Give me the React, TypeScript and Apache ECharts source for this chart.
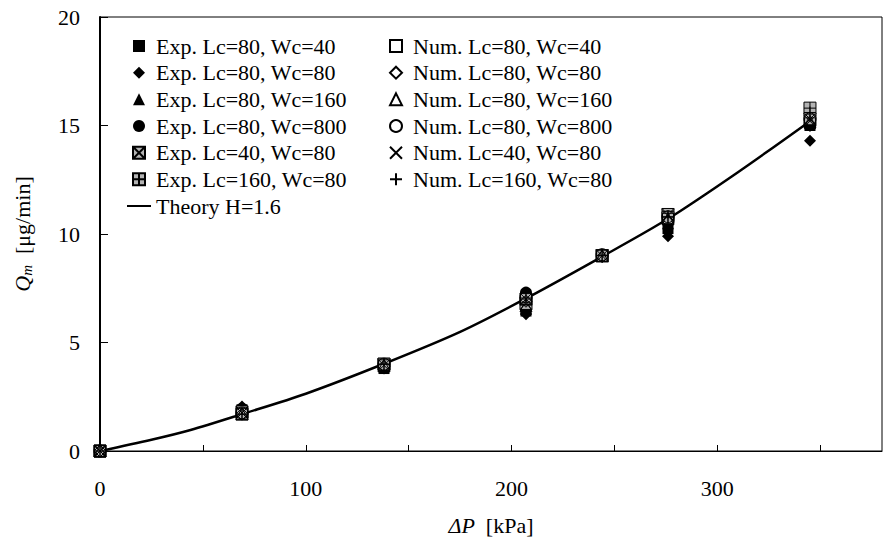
import React, { useEffect, useRef } from "react";
import * as echarts from "echarts";

// Applied pressure difference [kPa] at which flow rates were taken
const pressureKPa = [0, 69, 138, 207, 244, 276, 345];

// Experimental flow rates Qm [µg/min]
const expLc80Wc40 = [0, 1.9, 3.8, 6.45, 9.0, 10.25, 15.0];
const expLc80Wc80 = [0, 2.05, 3.8, 6.3, 9.0, 9.9, 14.3];
const expLc80Wc160 = [0, 2.0, 3.9, 6.6, 9.0, 10.5, 15.2];
const expLc80Wc800 = [0, 1.95, 3.9, 7.3, 9.0, 10.6, 15.5];
const expLc40Wc80 = [0, 1.8, 4.0, 6.8, 9.0, 10.9, 15.3];
const expLc160Wc80 = [0, 1.7, 4.0, 7.0, 9.0, 10.75, 15.8];

// Numerical flow rates Qm [µg/min]
const numLc80Wc40 = [0, 1.72, 3.95, 7.0, 9.0, 10.7, 15.1];
const numLc80Wc80 = [0, 1.7, 3.9, 6.9, 8.95, 10.6, 15.0];
const numLc80Wc160 = [0, 1.72, 3.95, 6.7, 9.0, 10.7, 15.2];
const numLc80Wc800 = [0, 1.75, 4.0, 7.1, 9.05, 10.8, 15.3];
const numLc40Wc80 = [0, 1.75, 3.95, 7.0, 9.0, 10.85, 15.2];
const numLc160Wc80 = [0, 1.7, 4.0, 7.05, 9.0, 10.8, 15.6];

// Theory curve (H = 1.6)
const theoryP = [0, 25, 44, 69, 100, 138, 175, 207, 244, 276, 310, 345];
const theoryQ = [0, 0.52, 0.97, 1.7, 2.64, 4.02, 5.49, 7.03, 8.96, 10.7, 12.85, 15.2];

const xTicks = [0, 100, 200, 300];

const FONT = "'Liberation Serif', 'Times New Roman', serif";
const GRAY = "#b3b3b3";
const CLEAR = "rgba(255,255,255,0)";

// Marker outlines as paths so legend icons keep a square aspect
const square = "path://M0,0H12V12H0Z";
const diamond = "path://M6,0L12,6L6,12L0,6Z";
const triangle = "path://M6,0L12,12H0Z";
const boxCross = "path://M0,0H12V12H0ZM0,0L12,12M12,0L0,12";
const boxPlus = "path://M0,0H12V12H0ZM6,0V12M0,6H12";
const cross = "path://M0,0L12,12M12,0L0,12";
const plus = "path://M6,0V12M0,6H12";
const lineIcon = "path://M0,0H24V2H0Z";

const pairs = (ys: number[]) => pressureKPa.map((p, i) => [p, ys[i]]);

type MarkerDef = {
  name: string;
  ys: number[];
  symbol: string;
  fill: string;
  border?: string;
  size?: number;
};

const markerDefs: MarkerDef[] = [
  { name: "Exp. Lc=80, Wc=40", ys: expLc80Wc40, symbol: square, fill: "#000", size: 11 },
  { name: "Exp. Lc=80, Wc=80", ys: expLc80Wc80, symbol: diamond, fill: "#000" },
  { name: "Exp. Lc=80, Wc=160", ys: expLc80Wc160, symbol: triangle, fill: "#000" },
  { name: "Exp. Lc=80, Wc=800", ys: expLc80Wc800, symbol: "circle", fill: "#000" },
  { name: "Exp. Lc=40, Wc=80", ys: expLc40Wc80, symbol: boxCross, fill: GRAY, border: "#000" },
  { name: "Exp. Lc=160, Wc=80", ys: expLc160Wc80, symbol: boxPlus, fill: GRAY, border: "#000" },
  { name: "Num. Lc=80, Wc=40", ys: numLc80Wc40, symbol: square, fill: CLEAR, border: "#000", size: 11 },
  { name: "Num. Lc=80, Wc=80", ys: numLc80Wc80, symbol: diamond, fill: CLEAR, border: "#000" },
  { name: "Num. Lc=80, Wc=160", ys: numLc80Wc160, symbol: triangle, fill: CLEAR, border: "#000" },
  { name: "Num. Lc=80, Wc=800", ys: numLc80Wc800, symbol: "circle", fill: CLEAR, border: "#000" },
  { name: "Num. Lc=40, Wc=80", ys: numLc40Wc80, symbol: cross, fill: CLEAR, border: "#000" },
  { name: "Num. Lc=160, Wc=80", ys: numLc160Wc80, symbol: plus, fill: CLEAR, border: "#000" },
];

const THEORY = "Theory H=1.6";

export default function App() {
  const ref = useRef<HTMLDivElement>(null);

  useEffect(() => {
    if (!ref.current) return;
    const chart = echarts.init(ref.current, undefined, { renderer: "svg" });

    const scatterSeries = markerDefs.map((d) => ({
      name: d.name,
      type: "scatter",
      data: pairs(d.ys),
      symbol: d.symbol,
      symbolSize: d.size ?? 12,
      symbolKeepAspect: true,
      z: 3,
      itemStyle: {
        color: d.fill,
        borderColor: d.border ?? d.fill,
        borderWidth: d.border ? 1 : 0,
        opacity: 1,
      },
    }));

    const legendText = {
      fontSize: 22,
      fontFamily: FONT,
      color: "#000",
      lineHeight: 22,
    };

    const legendBase = {
      orient: "vertical",
      top: 35,
      padding: 0,
      itemWidth: 24,
      itemHeight: 12,
      itemGap: 4.67,
      symbolKeepAspect: true,
      selectedMode: false,
      textStyle: legendText,
    };

    chart.setOption({
      animation: false,
      backgroundColor: "#fff",
      textStyle: { fontFamily: FONT },
      grid: {
        left: 100,
        top: 17,
        width: 782,
        height: 434,
        show: true,
        borderColor: "#000",
        borderWidth: 1,
        containLabel: false,
      },
      legend: [
        {
          ...legendBase,
          left: 127,
          data: [
            ...markerDefs.slice(0, 6).map((d) => d.name),
            { name: THEORY, icon: lineIcon },
          ],
        },
        {
          ...legendBase,
          left: 389,
          data: markerDefs.slice(6).map((d) => d.name),
        },
      ],
      xAxis: {
        type: "value",
        min: 0,
        max: 380,
        interval: 50,
        name: "{i|ΔP}  [kPa]",
        nameLocation: "middle",
        nameGap: 63,
        nameTextStyle: {
          fontSize: 22,
          fontFamily: FONT,
          color: "#000",
          rich: { i: { fontStyle: "italic", fontSize: 22, fontFamily: FONT, color: "#000" } },
        },
        axisLine: { lineStyle: { color: "#000", width: 1 } },
        axisTick: { inside: true, length: 6, lineStyle: { color: "#000", width: 1 } },
        axisLabel: {
          margin: 26,
          fontSize: 22,
          fontFamily: FONT,
          color: "#000",
          showMaxLabel: false,
          formatter: (v: number) => (xTicks.includes(v) ? String(v) : ""),
        },
        splitLine: { show: false },
      },
      yAxis: {
        type: "value",
        min: 0,
        max: 20,
        interval: 5,
        name: "{q|Q}{m|m}  [μg/min]",
        nameLocation: "middle",
        nameRotate: 90,
        nameGap: 66,
        nameTextStyle: {
          fontSize: 22,
          fontFamily: FONT,
          color: "#000",
          rich: {
            q: { fontStyle: "italic", fontSize: 22, fontFamily: FONT, color: "#000" },
            m: { fontStyle: "italic", fontSize: 15, fontFamily: FONT, color: "#000", verticalAlign: "bottom", padding: [8, 0, 0, 0] },
          },
        },
        axisLine: { lineStyle: { color: "#000", width: 2 } },
        axisTick: { inside: true, length: 8, lineStyle: { color: "#000", width: 1 } },
        axisLabel: { margin: 20, fontSize: 22, fontFamily: FONT, color: "#000" },
        splitLine: { show: false },
      },
      series: [
        ...scatterSeries,
        {
          name: THEORY,
          type: "line",
          data: theoryP.map((p, i) => [p, theoryQ[i]]),
          smooth: 0.3,
          symbol: "none",
          z: 2,
          lineStyle: { color: "#000", width: 2.5 },
          itemStyle: { color: "#000" },
        },
      ],
    });

    return () => chart.dispose();
  }, []);

  return (
    <div
      ref={ref}
      style={{ position: "absolute", left: 0, top: 0, width: 889, height: 552 }}
    />
  );
}
